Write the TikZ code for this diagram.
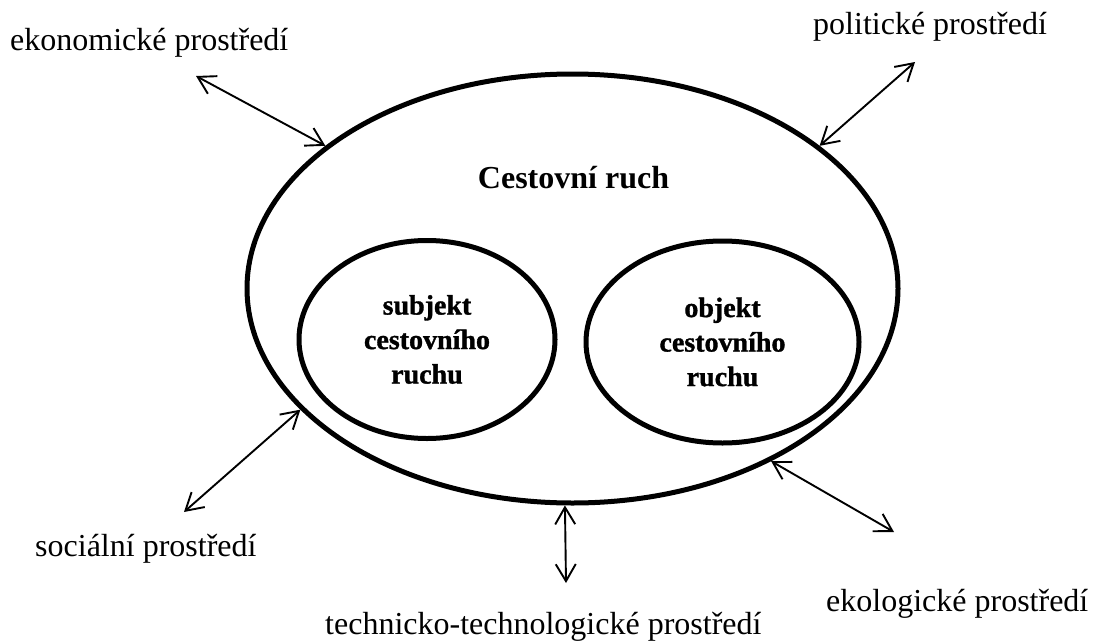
\documentclass[tikz,border=0pt]{standalone}
\usepackage{fontspec}
\setmainfont{Liberation Serif}
\newfontfamily\heavyfont{Liberation Serif}[BoldFeatures={FakeBold=1.2}]
\usetikzlibrary{arrows.meta,shapes.geometric}
\begin{document}
\begin{tikzpicture}[x=1pt,y=-1pt,
  lbl/.style={font=\fontsize{32}{38}\selectfont, inner sep=0pt, anchor=base west},
  oval/.style={draw, ellipse, line width=5pt, inner sep=0pt},
  innerov/.style={oval, font=\heavyfont\bfseries\fontsize{28}{34.5}\selectfont, align=center},
  link/.style={{Straight Barb[length=17pt,width=20pt]}-{Straight Barb[length=17pt,width=20pt]}, line width=1.9pt}
]
\useasboundingbox (0,0) rectangle (1094,642);
\node[oval, minimum width=651pt, minimum height=429pt] (big) at (572.5,288.5) {};
\node[font=\fontsize{32}{38}\selectfont\bfseries, inner sep=0pt, anchor=base] (title) at (573.5,188) {Cestovní ruch};
\node[innerov, minimum width=256pt, minimum height=198pt] (subj) at (427,339.5) {subjekt\\cestovního\\ruchu};
\node[innerov, minimum width=273pt, minimum height=202pt] (obj) at (722.5,342) {objekt\\cestovního\\ruchu};

\node[lbl] (eko) at (10,51) {ekonomické prostředí};
\node[lbl] (pol) at (813,35) {politické prostředí};
\node[lbl] (soc) at (35,556) {sociální prostředí};
\node[lbl] (ekol) at (826,611) {ekologické prostředí};
\node[lbl] (tech) at (325,634) {technicko-technologické prostředí};

\coordinate (ekoE) at (196,76);
\coordinate (polE) at (915,62);
\coordinate (socE) at (184,512);
\coordinate (ekolE) at (894,532);
\coordinate (techE) at (566,583);

\draw[link] (ekoE) -- (big.150.3);
\draw[link] (polE) -- (big.30.6);
\draw[link] (socE) -- (big.204.3);
\draw[link] (ekolE) -- (big.319.7);
\draw[link] (techE) -- (big.268.3);
\end{tikzpicture}
\end{document}
